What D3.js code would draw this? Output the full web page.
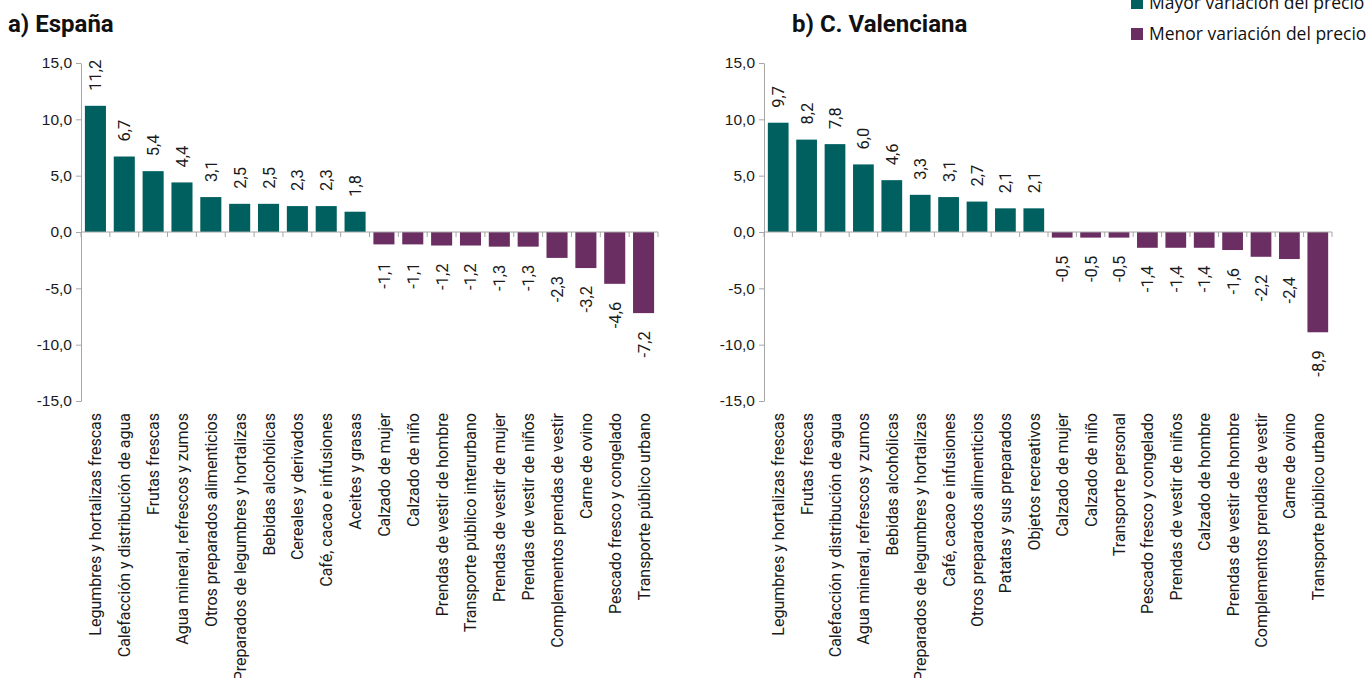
<!DOCTYPE html>
<html>
<head>
<meta charset="utf-8">
<script src="https://cdn.jsdelivr.net/npm/d3@7"></script>
<style>
  body { margin: 0; background: #fff; }
  svg { font-family: Roboto, sans-serif; }
  .tick text { fill: #1a1a1a; }
</style>
</head>
<body>
<svg id="canvas" width="1368" height="678"></svg>
<script>
// a) España
const catsES = ["Legumbres y hortalizas frescas", "Calefacción y distribución de agua", "Frutas frescas",
  "Agua mineral, refrescos  y zumos", "Otros preparados alimenticios", "Preparados de legumbres y hortalizas",
  "Bebidas alcohólicas", "Cereales y derivados", "Café, cacao e infusiones", "Aceites y grasas",
  "Calzado de mujer", "Calzado de niño", "Prendas de vestir de hombre", "Transporte público interurbano",
  "Prendas de vestir de mujer", "Prendas de vestir de niños", "Complementos prendas de vestir",
  "Carne de ovino", "Pescado fresco y congelado", "Transporte público urbano"]
const valsES = [11.2, 6.7, 5.4, 4.4, 3.1, 2.5, 2.5, 2.3, 2.3, 1.8,
  -1.1, -1.1, -1.2, -1.2, -1.3, -1.3, -2.3, -3.2, -4.6, -7.2]

// b) C. Valenciana
const catsCV = ["Legumbres y hortalizas frescas", "Frutas frescas", "Calefacción y distribución de agua",
  "Agua mineral, refrescos  y zumos", "Bebidas alcohólicas", "Preparados de legumbres y hortalizas",
  "Café, cacao e infusiones", "Otros preparados alimenticios", "Patatas y sus preparados", "Objetos recreativos",
  "Calzado de mujer", "Calzado de niño", "Transporte personal", "Pescado fresco y congelado",
  "Prendas de vestir de niños", "Calzado de hombre", "Prendas de vestir de hombre",
  "Complementos prendas de vestir", "Carne de ovino", "Transporte público urbano"]
const valsCV = [9.7, 8.2, 7.8, 6.0, 4.6, 3.3, 3.1, 2.7, 2.1, 2.1,
  -0.5, -0.5, -0.5, -1.4, -1.4, -1.4, -1.6, -2.2, -2.4, -8.9]

const yTicks = [15, 10, 5, 0, -5, -10, -15]
const legendLabels = ["Mayor variación del precio", "Menor variación del precio"]

const teal = "#00605f"
const purple = "#6b2e63"
const axisGrey = "#a6a6a6"
const fmt = v => d3.format(".1f")(v).replace(".", ",").replace("−", "-")

const svg = d3.select("#canvas")

function panel(title, cats, vals, left, right, titleX) {
  const top = 63, bottom = 401
  const y = d3.scaleLinear().domain([-15, 15]).range([bottom, top])
  const x = d3.scaleBand().domain(cats).range([left, right]).paddingInner(0.27).paddingOuter(0.135)
  const g = svg.append("g")

  g.append("text").attr("x", titleX).attr("y", 32)
    .attr("font-size", 24).attr("font-weight", "bold").attr("fill", "#111")
    .text(title)

  const ya = g.append("g").attr("transform", `translate(${left},0)`)
    .call(d3.axisLeft(y).tickValues(yTicks).tickFormat(fmt).tickSize(5).tickSizeOuter(0))
  ya.selectAll("text").attr("font-size", 15.5).attr("dx", -1)
  ya.selectAll("line, path").attr("stroke", axisGrey)

  g.append("g").selectAll("rect").data(vals).enter().append("rect")
    .attr("x", (d, i) => x(cats[i]))
    .attr("width", x.bandwidth())
    .attr("y", d => y(Math.max(0, d)))
    .attr("height", d => Math.abs(y(d) - y(0)))
    .attr("fill", d => d >= 0 ? teal : purple)

  // x axis at zero with ticks between categories
  const step = x.step()
  const xa = g.append("g")
  xa.append("line").attr("x1", left).attr("x2", right).attr("y1", y(0)).attr("y2", y(0))
    .attr("stroke", axisGrey)
  xa.selectAll("line.t").data(d3.range(cats.length + 1)).enter().append("line")
    .attr("x1", i => left + i * step).attr("x2", i => left + i * step)
    .attr("y1", y(0)).attr("y2", y(0) + 5).attr("stroke", axisGrey)

  // value labels
  g.append("g").selectAll("text").data(vals).enter().append("text")
    .attr("transform", (d, i) => {
      const cx = x(cats[i]) + x.bandwidth() / 2 + 6
      const cy = d >= 0 ? y(d) - 15 : y(d) + 18
      return `translate(${cx},${cy}) rotate(-90)`
    })
    .attr("text-anchor", d => d >= 0 ? "start" : "end")
    .attr("font-size", 16.5).attr("fill", "#1a1a1a")
    .text(fmt)

  // category labels
  g.append("g").selectAll("text").data(cats).enter().append("text")
    .attr("transform", d => `translate(${x(d) + x.bandwidth() / 2 + 6},413) rotate(-90)`)
    .attr("text-anchor", "end")
    .attr("font-size", 16).attr("fill", "#1a1a1a")
    .text(d => d)
}

panel("a) España", catsES, valsES, 81, 658, 8)
panel("b) C. Valenciana", catsCV, valsCV, 764, 1332, 792)

// legend
const lg = svg.append("g")
lg.selectAll("rect").data(legendLabels).enter().append("rect")
  .attr("x", 1131).attr("y", (d, i) => -3 + i * 31).attr("width", 12).attr("height", 12)
  .attr("fill", (d, i) => i === 0 ? teal : purple)
lg.selectAll("text").data(legendLabels).enter().append("text")
  .attr("x", 1149).attr("y", (d, i) => 9 + i * 31)
  .attr("font-family", "'Open Sans', sans-serif").attr("font-size", 17.5).attr("fill", "#111")
  .text(d => d)
</script>
</body>
</html>
